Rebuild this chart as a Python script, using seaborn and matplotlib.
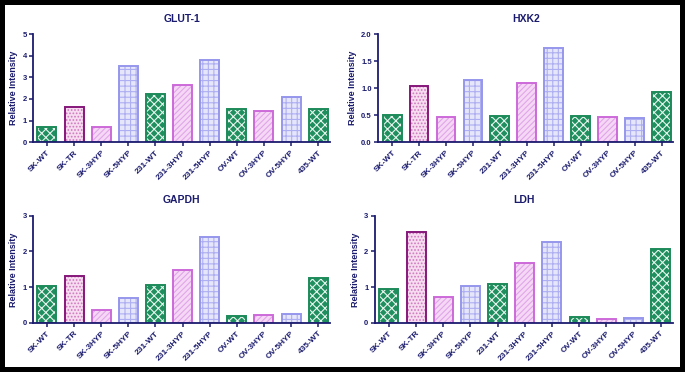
import matplotlib
matplotlib.use("Agg")
import matplotlib.pyplot as plt
import seaborn as sns
import pandas as pd

# sample names along x
samples = ["SK-WT", "SK-TR", "SK-3HYP", "SK-5HYP", "231-WT", "231-3HYP",
           "231-5HYP", "OV-WT", "OV-3HYP", "OV-5HYP", "435-WT"]
groups = ["WT", "TR", "3HYP", "5HYP", "WT", "3HYP", "5HYP", "WT", "3HYP", "5HYP", "WT"]

glut1 = [0.69, 1.62, 0.69, 3.55, 2.21, 2.65, 3.81, 1.54, 1.42, 2.07, 1.53]
hxk2 = [0.50, 1.04, 0.47, 1.15, 0.48, 1.09, 1.74, 0.48, 0.47, 0.45, 0.93]
gapdh = [1.03, 1.32, 0.37, 0.69, 1.06, 1.49, 2.40, 0.20, 0.22, 0.24, 1.27]
ldh = [0.96, 2.55, 0.73, 1.04, 1.10, 1.69, 2.26, 0.16, 0.12, 0.14, 2.06]

titles = ["GLUT-1", "HXK2", "GAPDH", "LDH"]
ymax = [5, 2.0, 3, 3]
yticks = [[0, 1, 2, 3, 4, 5], [0.0, 0.5, 1.0, 1.5, 2.0], [0, 1, 2, 3], [0, 1, 2, 3]]

# styling per group: (face, hatch color, hatch, edge)
style = {
    "WT": ("#1f8f5f", "#e8f5ee", "xxxx", "#1d8a5a"),
    "TR": ("#f7dcf1", "#cf78bd", ".....", "#86177a"),
    "3HYP": ("#f6d8f6", "#dfa6e8", "//////", "#cc6ad9"),
    "5HYP": ("#e6e6fb", "#aeaef2", "+++", "#9696ec"),
}
navy = "#1b1b6e"

sns.set_style("white")
plt.rcParams["font.family"] = ["Liberation Sans", "DejaVu Sans"]
plt.rcParams["hatch.linewidth"] = 0.8

fig = plt.figure(figsize=(6.85, 3.72), dpi=100)
fig.patch.set_facecolor("white")
fig.patch.set_edgecolor("black")
fig.patch.set_linewidth(6)

boxes = [
    [0.048, 0.618, 0.434, 0.290],
    [0.552, 0.618, 0.431, 0.290],
    [0.048, 0.132, 0.434, 0.288],
    [0.547, 0.132, 0.435, 0.288],
]
data = [glut1, hxk2, gapdh, ldh]

for i in range(4):
    ax = fig.add_axes(boxes[i])
    df = pd.DataFrame({"sample": samples, "value": data[i], "group": groups})
    faces = {s: style[g][0] for s, g in zip(samples, groups)}
    edges = {s: style[g][3] for s, g in zip(samples, groups)}
    sns.barplot(data=df, x="sample", y="value", hue="sample", palette=faces,
                width=0.7, saturation=1, legend=False, ax=ax, linewidth=0)
    for cont, g in zip(ax.containers, groups):
        for p in cont:
            p.set_hatch(style[g][2])
            p.set_edgecolor(style[g][1])
            p.set_linewidth(0)
    # outlines on top
    sns.barplot(data=df, x="sample", y="value", hue="sample", palette=edges,
                width=0.7, saturation=1, legend=False, ax=ax, fill=False,
                linewidth=1.4)

    ax.set_xlim(-0.52, 10.44)
    ax.set_ylim(0, ymax[i])
    ax.set_yticks(yticks[i])
    if i == 1:
        ax.set_yticklabels([f"{t:.1f}" for t in yticks[i]])
    ax.set_title(titles[i], fontsize=7.5, fontweight="bold", color=navy, pad=9)
    ax.set_xlabel("")
    ax.set_ylabel("Relative Intensity", fontsize=6.5, fontweight="bold", color=navy, labelpad=3)
    sns.despine(ax=ax)
    for sp in ["left", "bottom"]:
        ax.spines[sp].set_color(navy)
        ax.spines[sp].set_linewidth(1.3)
    ax.tick_params(axis="both", colors=navy, length=3, width=1.1, direction="out",
                   labelsize=5.5, pad=1.5, left=True, bottom=True)
    ax.tick_params(axis="x", labelsize=6, pad=2)
    for lab in ax.get_yticklabels():
        lab.set_fontweight("bold")
    for lab in ax.get_xticklabels():
        lab.set_rotation(45)
        lab.set_ha("right")
        lab.set_rotation_mode("anchor")
        lab.set_fontweight("bold")

fig.savefig("out.png", dpi=100, facecolor="white", edgecolor="black")
